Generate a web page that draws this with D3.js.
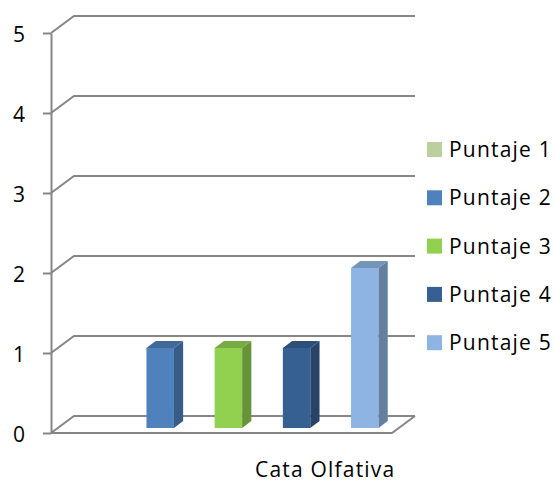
<!DOCTYPE html>
<html>
<head>
<meta charset="utf-8">
<script src="https://cdn.jsdelivr.net/npm/d3@7"></script>
<style>
  html, body { margin: 0; padding: 0; background: #fff; }
  svg { display: block; font-family: "Open Sans", Lato, sans-serif; }
</style>
</head>
<body>
<svg id="chart" width="554" height="483"></svg>
<script>
// Single category, five score series
const categories = ["Cata Olfativa"];
const seriesNames = ["Puntaje 1", "Puntaje 2", "Puntaje 3", "Puntaje 4", "Puntaje 5"];
const seriesValues = [0, 1, 1, 1, 2];
const seriesColors = ["#BBD09C", "#4F81BD", "#92D050", "#376092", "#8DB4E2"];
const yTicks = [0, 1, 2, 3, 4, 5];

const svg = d3.select("#chart");
const gridColor = "#868686";
const fontFamily = "'Open Sans', Lato, sans-serif";
const fontSize = 21;
const letterSpacing = 1.2;

// Front plane of the plot and 3D depth offset of the back wall
const front = { left: 51, right: 392, top: 33, bottom: 433 };
const depth = { dx: 23, dy: -17 };

const y = d3.scaleLinear().domain([0, 5]).range([front.bottom, front.top]);
const x = d3.scaleBand().domain(seriesNames).range([front.left, front.right])
  .paddingInner(0.597).paddingOuter(0.2985);

// Gridlines: diagonal on the side wall, then horizontal along the back wall
const grid = svg.append("g").attr("fill", "none").attr("stroke", gridColor).attr("stroke-width", 2);
yTicks.forEach(t => {
  const yy = y(t);
  grid.append("path")
    .attr("d", `M${front.left},${yy}L${front.left + depth.dx},${yy + depth.dy}L${front.right + depth.dx},${yy + depth.dy}`);
});
// Floor outline (front edge and right edge)
grid.append("path")
  .attr("d", `M${front.left},${front.bottom}L${front.right},${front.bottom}L${front.right + depth.dx},${front.bottom + depth.dy}`);

// Value axis
const axis = svg.append("g")
  .attr("transform", `translate(${front.left},0)`)
  .call(d3.axisLeft(y).tickValues(yTicks).tickSize(8).tickSizeOuter(0).tickPadding(18).tickFormat(d3.format("d")));
axis.select(".domain").attr("stroke", gridColor).attr("stroke-width", 2);
axis.selectAll(".tick line").attr("stroke", gridColor).attr("stroke-width", 2);
axis.selectAll(".tick text").attr("font-size", fontSize).attr("fill", "#000")
  .attr("font-family", fontFamily).attr("dy", "0.4em");

// 3D columns, placed between 30% and 70% of the depth
const z0 = 0.3, z1 = 0.7;
const bars = svg.append("g");
seriesNames.forEach((name, i) => {
  const v = seriesValues[i];
  if (!v) return;
  const base = d3.color(seriesColors[i]);
  const ox = depth.dx * z0, oy = depth.dy * z0;
  const bx = depth.dx * (z1 - z0), by = depth.dy * (z1 - z0);
  const x0 = x(name) + ox, x1 = x0 + x.bandwidth();
  const yTop = y(v) + oy, yBot = y(0) + oy;
  // front face
  bars.append("path").attr("fill", base.formatHex())
    .attr("d", `M${x0},${yBot}L${x0},${yTop}L${x1},${yTop}L${x1},${yBot}Z`);
  // side face
  bars.append("path").attr("fill", base.darker(0.95).formatHex())
    .attr("d", `M${x1},${yBot}L${x1},${yTop}L${x1 + bx},${yTop + by}L${x1 + bx},${yBot + by}Z`);
  // top face
  bars.append("path").attr("fill", base.darker(0.55).formatHex())
    .attr("d", `M${x0},${yTop}L${x0 + bx},${yTop + by}L${x1 + bx},${yTop + by}L${x1},${yTop}Z`);
});

// Category label
svg.append("text")
  .attr("x", 255).attr("y", 477)
  .attr("font-size", fontSize).attr("letter-spacing", letterSpacing).attr("fill", "#000")
  .text(categories[0]);

// Legend
const legend = svg.append("g").attr("transform", "translate(427,157)");
seriesNames.forEach((name, i) => {
  const g = legend.append("g").attr("transform", `translate(0,${i * 48.3})`);
  g.append("rect").attr("y", -15).attr("width", 15).attr("height", 15).attr("fill", seriesColors[i]);
  g.append("text").attr("x", 22).attr("y", 0).attr("font-size", fontSize)
    .attr("letter-spacing", letterSpacing).attr("fill", "#000").text(name);
});
</script>
</body>
</html>
